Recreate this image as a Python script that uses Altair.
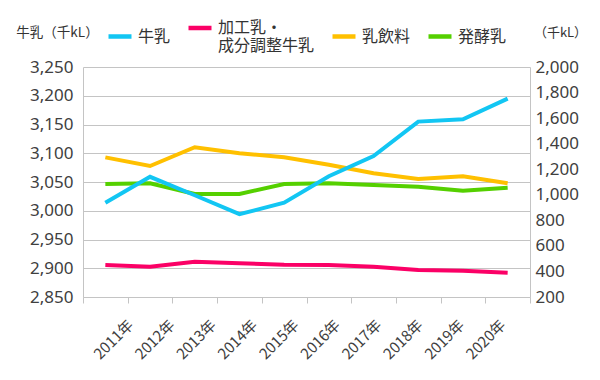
import altair as alt
import pandas as pd

years = ["2011年", "2012年", "2013年", "2014年", "2015年",
         "2016年", "2017年", "2018年", "2019年", "2020年"]
series_names = ["牛乳", "加工乳・成分調整牛乳", "乳飲料", "発酵乳"]
series_colors = ["#12c6f3", "#fb0066", "#ffc000", "#55d000"]

milk = [3014, 3059, 3027, 2994, 3014, 3060, 3095, 3155, 3159, 3195]
processed = [450, 437, 476, 464, 453, 450, 437, 411, 406, 390]
milk_drink = [1293, 1225, 1372, 1325, 1293, 1235, 1168, 1123, 1145, 1090]
fermented = [1084, 1090, 1006, 1006, 1084, 1090, 1077, 1063, 1032, 1055]

left_ticks = list(range(2850, 3251, 50))
right_ticks = list(range(200, 2001, 200))

left_df = pd.DataFrame({"year": years, "value": milk, "series": series_names[0]})
right_df = pd.concat([
    pd.DataFrame({"year": years, "value": processed, "series": series_names[1]}),
    pd.DataFrame({"year": years, "value": milk_drink, "series": series_names[2]}),
    pd.DataFrame({"year": years, "value": fermented, "series": series_names[3]}),
])

CJK = "Noto Sans CJK JP"
NUM = "Noto Sans"
GRID = "#c4c4c4"

x_enc = alt.X(
    "year:N", sort=years, bandPosition=0.5,
    scale=alt.Scale(type="band", paddingInner=0, paddingOuter=0),
    axis=alt.Axis(
        title=None, labelAngle=-45, labelAlign="right", labelBaseline="middle",
        labelOffset=alt.ExprRef("25 - 30*datum.index"), labelPadding=19,
        tickBand="extent", tickSize=6,
        tickColor=GRID, domainColor=GRID, labelFont=CJK, labelFontSize=15,
        labelColor="#404040", grid=False,
    ),
)

color_enc = alt.Color(
    "series:N",
    scale=alt.Scale(domain=series_names, range=series_colors),
    legend=alt.Legend(
        title=None, orient="none", legendX=23, legendY=-53, direction="horizontal",
        columns=4, columnPadding=8, symbolType="stroke", symbolSize=529,
        symbolStrokeWidth=4.5, labelFont=CJK, labelFontSize=16, labelColor="#333333",
        labelOffset=4, labelLimit=200,
        labelExpr="datum.label == '加工乳・成分調整牛乳' ? ['加工乳・', '成分調整牛乳'] : datum.label",
    ),
)

right = alt.Chart(right_df).mark_line(strokeWidth=4).encode(
    x=x_enc,
    y=alt.Y(
        "value:Q",
        scale=alt.Scale(domain=[200, 2000], nice=False, zero=False),
        axis=alt.Axis(
            orient="right", values=right_ticks, format=",.0f", grid=False, ticks=False,
            domainColor=GRID, labelPadding=5, labelFont=NUM, labelFontSize=17,
            labelColor="#404040", title="（千kL）", titleAngle=0, titleAlign="center",
            titleBaseline="middle", titleX=30, titleY=-35, titleFont=CJK,
            titleFontSize=13, titleFontWeight="normal", titleColor="#333333",
        ),
    ),
    color=color_enc,
)

left = alt.Chart(left_df).mark_line(strokeWidth=4).encode(
    x=x_enc,
    y=alt.Y(
        "value:Q",
        scale=alt.Scale(domain=[2850, 3250], nice=False, zero=False),
        axis=alt.Axis(
            orient="left", values=left_ticks, format=",.0f", grid=True, gridColor=GRID,
            ticks=False, domainColor=GRID, labelPadding=10, labelFont=NUM,
            labelFontSize=17, labelColor="#404040", title="牛乳（千kL）",
            titleAngle=0, titleAlign="center", titleBaseline="middle", titleX=-26,
            titleY=-35, titleFont=CJK, titleFontSize=13.5, titleFontWeight="normal",
            titleColor="#333333",
        ),
    ),
    color=color_enc,
)

chart = alt.layer(right, left).resolve_scale(y="independent").properties(
    width=447, height=230,
    autosize=alt.AutoSizeParams(type="none"),
    padding={"left": 75, "top": 59, "right": 62, "bottom": 75},
).configure_view(stroke=None)

chart.save("out.html", embed_options={"renderer": "svg", "actions": False})
